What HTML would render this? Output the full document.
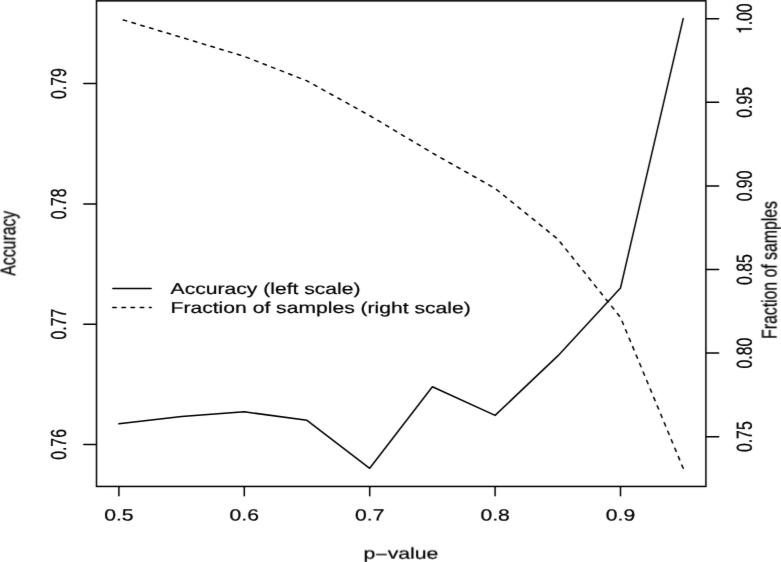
<!DOCTYPE html><html><head><meta charset="utf-8"><style>html,body{margin:0;padding:0;background:#fff;overflow:hidden;}svg{display:block;will-change:transform;}text{text-rendering:geometricPrecision;font-family:"Liberation Sans",sans-serif;fill:#000;stroke:#000;stroke-width:0.2px;}</style></head><body>
<svg width="781" height="562" viewBox="0 0 781 562">
<defs><filter id="soft" x="0" y="0" width="781" height="562" filterUnits="userSpaceOnUse" color-interpolation-filters="sRGB"><feConvolveMatrix order="3" kernelMatrix="0.0050 0.0400 0.0050 0.0900 0.7200 0.0900 0.0050 0.0400 0.0050" divisor="1" preserveAlpha="false" edgeMode="duplicate"/></filter></defs>
<g filter="url(#soft)"><rect x="0" y="0" width="781" height="562" fill="#fff"/>
<g stroke="#000" stroke-width="1.5" fill="none" stroke-linecap="round" stroke-linejoin="round">
<rect x="96.5" y="0.85" width="609.40" height="485.60" stroke-linejoin="miter"/>
<line x1="118.90" y1="487.20" x2="118.90" y2="495.86"/>
<line x1="244.30" y1="487.20" x2="244.30" y2="495.86"/>
<line x1="369.70" y1="487.20" x2="369.70" y2="495.86"/>
<line x1="495.10" y1="487.20" x2="495.10" y2="495.86"/>
<line x1="620.50" y1="487.20" x2="620.50" y2="495.86"/>
<line x1="95.75" y1="444.44" x2="83.80" y2="444.44"/>
<line x1="95.75" y1="324.16" x2="83.80" y2="324.16"/>
<line x1="95.75" y1="203.88" x2="83.80" y2="203.88"/>
<line x1="95.75" y1="83.60" x2="83.80" y2="83.60"/>
<line x1="706.65" y1="436.70" x2="718.60" y2="436.70"/>
<line x1="706.65" y1="353.11" x2="718.60" y2="353.11"/>
<line x1="706.65" y1="269.52" x2="718.60" y2="269.52"/>
<line x1="706.65" y1="185.94" x2="718.60" y2="185.94"/>
<line x1="706.65" y1="102.35" x2="718.60" y2="102.35"/>
<line x1="706.65" y1="18.76" x2="718.60" y2="18.76"/>
<polyline points="118.90,423.85 181.60,416.50 244.30,411.80 307.00,420.35 369.70,468.30 432.40,386.70 495.10,415.40 557.80,355.90 620.50,288.00 683.20,18.60"/>
<polyline points="683.20,468.30 620.50,317.40 557.80,239.10 495.10,188.40 432.40,153.00 369.70,115.60 307.00,80.90 244.30,56.40 181.60,37.40 118.90,18.60" stroke-dasharray="3.47 5.692"/>
<line x1="112.8" y1="288.55" x2="151.1" y2="288.55"/>
<line x1="112.75" y1="307.6" x2="151.2" y2="307.6" stroke-dasharray="3.47 5.692"/>
</g>
<g font-size="15.8">
<text transform="translate(118.90,520.55) scale(1.34,1.025) skewY(0.05)" text-anchor="middle">0.5</text>
<text transform="translate(244.30,520.55) scale(1.34,1.025) skewY(0.05)" text-anchor="middle">0.6</text>
<text transform="translate(369.70,520.55) scale(1.34,1.025) skewY(0.05)" text-anchor="middle">0.7</text>
<text transform="translate(495.10,520.55) scale(1.34,1.025) skewY(0.05)" text-anchor="middle">0.8</text>
<text transform="translate(620.50,520.55) scale(1.34,1.025) skewY(0.05)" text-anchor="middle">0.9</text>
<text transform="translate(66.00,444.44) scale(1.3735,1) rotate(-90) skewY(0.05)" text-anchor="middle">0.76</text>
<text transform="translate(66.00,324.16) scale(1.3735,1) rotate(-90) skewY(0.05)" text-anchor="middle">0.77</text>
<text transform="translate(66.00,203.88) scale(1.3735,1) rotate(-90) skewY(0.05)" text-anchor="middle">0.78</text>
<text transform="translate(66.00,83.60) scale(1.3735,1) rotate(-90) skewY(0.05)" text-anchor="middle">0.79</text>
<text transform="translate(751.70,436.70) scale(1.3735,1) rotate(-90) skewY(0.05)" text-anchor="middle">0.75</text>
<text transform="translate(751.70,353.11) scale(1.3735,1) rotate(-90) skewY(0.05)" text-anchor="middle">0.80</text>
<text transform="translate(751.70,269.52) scale(1.3735,1) rotate(-90) skewY(0.05)" text-anchor="middle">0.85</text>
<text transform="translate(751.70,185.94) scale(1.3735,1) rotate(-90) skewY(0.05)" text-anchor="middle">0.90</text>
<text transform="translate(751.70,102.35) scale(1.3735,1) rotate(-90) skewY(0.05)" text-anchor="middle">0.95</text>
<g transform="translate(751.70,18.76) scale(1.3735,1) rotate(-90) skewY(0.05)">
<path d="M5.878,-11.107 L5.878,0 L4.487,0 L4.487,-7.837 L1.833,-7.837 L1.833,-8.848 C3.792,-9.085 4.503,-9.480 4.898,-11.107 Z" transform="translate(-15.373,0)" fill="#000" stroke="#000" stroke-width="0.2"/>
<text x="-6.589" y="0" text-anchor="start">.00</text>
</g>
<text transform="translate(400.90,558.70) scale(1.34,1.0) skewY(0.05)" text-anchor="middle">p<tspan dy="1.27">−</tspan><tspan dy="-1.27">value</tspan></text>
<text transform="translate(15.00,243.30) scale(1.3400,1) rotate(-90) skewY(0.05)" text-anchor="middle">Accuracy</text>
<text transform="translate(776.30,269.90) scale(1.3400,1) rotate(-90) skewY(0.05)" text-anchor="middle">Fraction of samples</text>
<text transform="translate(170.55,294.00) scale(1.336,1.0) skewY(0.05)" text-anchor="start">Accuracy (left scale)</text>
<text transform="translate(170.55,313.00) scale(1.336,1.0) skewY(0.05)" text-anchor="start">Fraction of samples (right scale)</text>
</g>
</g>
</svg></body></html>
